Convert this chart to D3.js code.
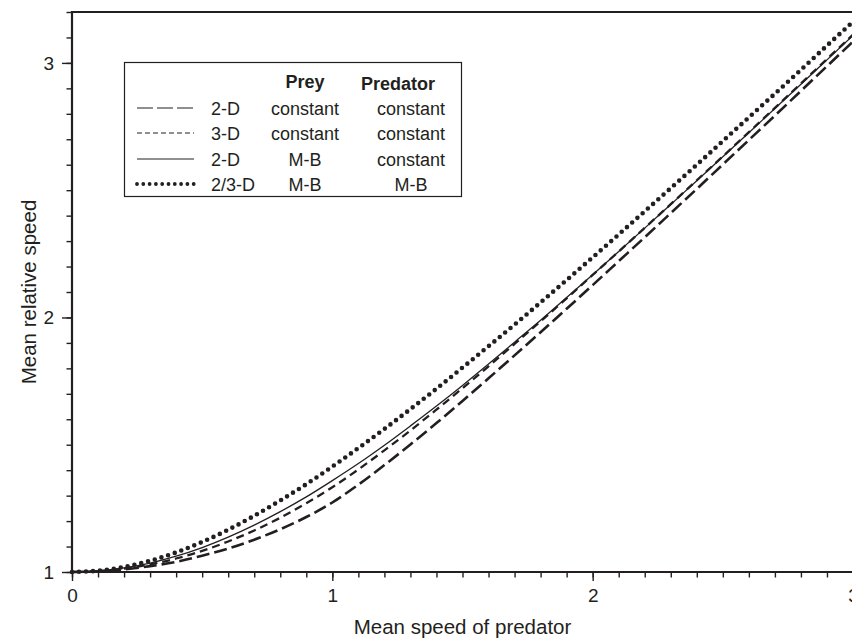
<!DOCTYPE html>
<html>
<head>
<meta charset="utf-8">
<script src="https://cdn.jsdelivr.net/npm/d3@7"></script>
<style>
  html, body { margin: 0; padding: 0; background: #fff; }
  svg { display: block; font-family: "Liberation Sans", Arial, Helvetica, sans-serif; }
</style>
</head>
<body>
<svg id="chart" width="852" height="643"></svg>
<script>
// ---- data ----
const predatorSpeed = [0.0,0.1,0.2,0.3,0.4,0.5,0.6,0.7,0.8,0.9,1.0,1.1,1.2,1.3,1.4,1.5,1.6,1.7,1.8,1.9,2.0,2.1,2.2,2.3,2.4,2.5,2.6,2.7,2.8,2.9,3.0];
const rel2DConstConst = [1.000,1.003,1.010,1.023,1.040,1.064,1.092,1.127,1.168,1.216,1.273,1.343,1.420,1.501,1.585,1.672,1.761,1.851,1.942,2.034,2.127,2.221,2.315,2.410,2.505,2.601,2.697,2.793,2.890,2.987,3.084];
const rel3DConstConst = [1.000,1.003,1.013,1.030,1.053,1.083,1.120,1.163,1.213,1.270,1.333,1.403,1.478,1.556,1.638,1.722,1.808,1.896,1.985,2.075,2.167,2.259,2.352,2.445,2.539,2.633,2.728,2.823,2.919,3.015,3.111];
const rel2DMBConst    = [1.000,1.004,1.016,1.035,1.062,1.096,1.137,1.184,1.237,1.295,1.359,1.426,1.498,1.574,1.652,1.733,1.817,1.903,1.989,2.078,2.168,2.259,2.351,2.444,2.537,2.631,2.726,2.821,2.916,3.012,3.108];
const rel23DMBMB      = [1.000,1.005,1.020,1.044,1.077,1.118,1.166,1.221,1.281,1.345,1.414,1.487,1.562,1.640,1.720,1.803,1.887,1.972,2.059,2.147,2.236,2.326,2.417,2.508,2.600,2.693,2.786,2.879,2.973,3.068,3.162];

const xTickLabels = [0, 1, 2, 3];
const yTickLabels = [1, 2, 3];
const legendHeader = ["Prey", "Predator"];
const legendDims = ["2-D", "3-D", "2-D", "2/3-D"];
const legendPrey = ["constant", "constant", "M-B", "M-B"];
const legendPred = ["constant", "constant", "constant", "M-B"];
const xTitle = "Mean speed of predator";
const yTitle = "Mean relative speed";

// ---- styles ----
const ink = "#231f20";
const seriesStyle = [
  { w: 2.6, dash: "13,5", cap: "butt", lw: 1.2, ldash: "16,4", lcap: "butt" },
  { w: 2.3, dash: "8,5",  cap: "butt", lw: 1.0, ldash: "5,3",  lcap: "butt" },
  { w: 1.3, dash: null,   cap: "butt", lw: 1.0, ldash: null,   lcap: "butt" },
  { w: 4.6, dash: "0,7",  cap: "round", lw: 3.8, ldash: "0,6.3", lcap: "round" }
];
const seriesData = [rel2DConstConst, rel3DConstConst, rel2DMBConst, rel23DMBMB];

const svg = d3.select("#chart");
const mLeft = 72, mRight = 853, mTop = 12, mBottom = 572;

const x = d3.scaleLinear().domain([0, 3]).range([mLeft, mRight]);
const y = d3.scaleLinear().domain([1, 3.2]).range([mBottom, mTop]);

// minor ticks
const xMinor = d3.range(0, 31).map(i => i / 10);
const yMinor = d3.range(10, 33).map(i => i / 10);

const gx = svg.append("g").attr("transform", `translate(0,${mBottom})`);
gx.call(d3.axisBottom(x).tickValues(xMinor).tickSize(5.5).tickFormat(""))
  .call(g => g.select(".domain").remove());
gx.append("g").call(d3.axisBottom(x).tickValues(xTickLabels).tickSize(9).tickPadding(8).tickFormat(d3.format("d")))
  .call(g => g.select(".domain").remove());
gx.selectAll("line").attr("stroke", ink).attr("stroke-width", 1.4);
gx.selectAll("text").attr("fill", ink).attr("font-size", 19).attr("font-family", "Liberation Sans, Arial, sans-serif");

const gy = svg.append("g").attr("transform", `translate(${mLeft},0)`);
gy.call(d3.axisLeft(y).tickValues(yMinor).tickSize(5.5).tickFormat(""))
  .call(g => g.select(".domain").remove());
gy.append("g").call(d3.axisLeft(y).tickValues(yTickLabels).tickSize(10).tickPadding(8).tickFormat(d3.format("d")))
  .call(g => g.select(".domain").remove());
gy.selectAll("line").attr("stroke", ink).attr("stroke-width", 1.4);
gy.selectAll("text").attr("fill", ink).attr("font-size", 19).attr("font-family", "Liberation Sans, Arial, sans-serif");

// frame lines: left, bottom, top
svg.append("path")
  .attr("d", `M${mRight},${mTop}H${mLeft}V${mBottom}H${mRight}`)
  .attr("fill", "none").attr("stroke", ink).attr("stroke-width", 2.2);

// curves
const line = d3.line()
  .x((d, i) => x(predatorSpeed[i]))
  .y(d => y(d))
  .curve(d3.curveMonotoneX);

svg.append("g").selectAll("path").data(seriesData).join("path")
  .attr("d", d => line(d))
  .attr("fill", "none")
  .attr("stroke", ink)
  .attr("stroke-width", (d, i) => seriesStyle[i].w)
  .attr("stroke-dasharray", (d, i) => seriesStyle[i].dash)
  .attr("stroke-linecap", (d, i) => seriesStyle[i].cap);

// axis titles
svg.append("text")
  .attr("x", (mLeft + mRight) / 2).attr("y", 634)
  .attr("text-anchor", "middle").attr("font-size", 20.5).attr("fill", ink)
  .text(xTitle);
svg.append("text")
  .attr("transform", `translate(36,${(mTop + mBottom) / 2}) rotate(-90)`)
  .attr("text-anchor", "middle").attr("font-size", 20.5).attr("fill", ink)
  .text(yTitle);

// legend
const lg = svg.append("g");
lg.append("rect").attr("x", 124.5).attr("y", 62.5).attr("width", 337).attr("height", 134)
  .attr("fill", "#fff").attr("stroke", ink).attr("stroke-width", 1.2);
lg.append("text").attr("x", 305).attr("y", 88).attr("text-anchor", "middle")
  .attr("font-size", 18).attr("font-weight", "bold").attr("fill", ink).text(legendHeader[0]);
lg.append("text").attr("x", 398).attr("y", 90).attr("text-anchor", "middle")
  .attr("font-size", 18).attr("font-weight", "bold").attr("fill", ink).text(legendHeader[1]);
const rowY = [108, 133, 159, 184];
legendDims.forEach((lab, i) => {
  const st = seriesStyle[i];
  lg.append("line").attr("x1", 137).attr("x2", 194).attr("y1", rowY[i]).attr("y2", rowY[i])
    .attr("stroke", ink).attr("stroke-width", st.lw)
    .attr("stroke-dasharray", st.ldash).attr("stroke-linecap", st.lcap);
  lg.append("text").attr("x", 211).attr("y", rowY[i] + 6.5).attr("font-size", 18).attr("fill", ink).text(lab);
  lg.append("text").attr("x", 305).attr("y", rowY[i] + 6.5).attr("text-anchor", "middle").attr("font-size", 18).attr("fill", ink).text(legendPrey[i]);
  lg.append("text").attr("x", 411).attr("y", rowY[i] + 6.5).attr("text-anchor", "middle").attr("font-size", 18).attr("fill", ink).text(legendPred[i]);
});
</script>
</body>
</html>
